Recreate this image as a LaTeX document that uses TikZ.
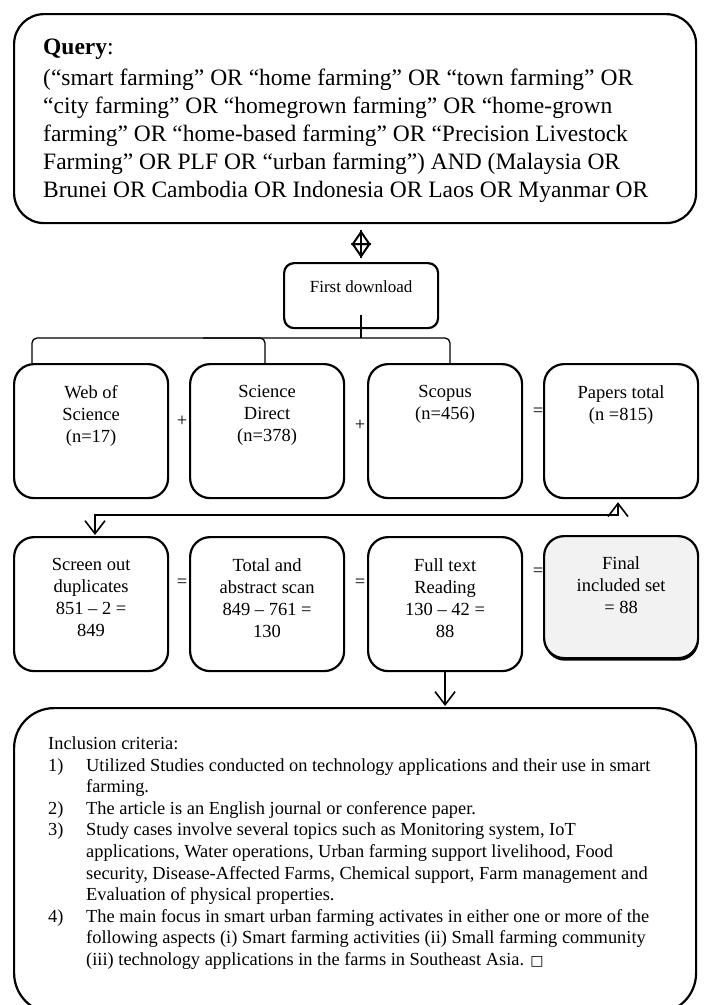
\documentclass[tikz,border=0pt]{standalone}
\usepackage{fontspec}
\setmainfont{Liberation Serif}
\newfontfamily\symfont{DejaVu Sans}
\usetikzlibrary{arrows.meta,shadows}
\definecolor{finalgray}{RGB}{242,242,242}
\begin{document}
\begin{tikzpicture}[x=1pt,y=-1pt,
  bigbox/.style={draw,line width=2.2pt,anchor=north west,inner sep=0pt},
  stepbox/.style={draw,line width=2.2pt,rounded corners=20pt,minimum width=154pt,minimum height=134pt,anchor=north west,inner sep=0pt},
  boxtext/.style={anchor=north,inner sep=0pt,align=center,font=\fontsize{18.5}{22}\selectfont},
  optext/.style={inner sep=0pt,font=\fontsize{18.5}{22}\selectfont},
  conn/.style={line width=1.3pt},
  vtip/.style={line width=1.6pt,arrows={-Straight Barb[length=13pt,width=20pt]}},
  bothtip/.style={line width=1.6pt,arrows={Straight Barb[length=13pt,width=20pt]-Straight Barb[length=13pt,width=20pt]}},
]
\path[use as bounding box] (0,0) rectangle (706,1005);
\clip (0,0) rectangle (706,1005);
\fill[white] (0,0) rectangle (706,1005);

% Query box
\node[bigbox,rounded corners=30pt,minimum width=682pt,minimum height=209pt] (q) at (13,13) {};
\node[anchor=north west,inner sep=0pt,align=left,font=\fontsize{23.5}{28}\selectfont] (qt) at (43,39)
{\textbf{Query}:\\[3pt]
(“smart farming” OR “home farming” OR “town farming” OR\\
“city farming” OR “homegrown farming” OR “home-grown\\
farming” OR “home-based farming” OR “Precision Livestock\\
Farming” OR PLF OR “urban farming”) AND (Malaysia OR\\
Brunei OR Cambodia OR Indonesia OR Laos OR Myanmar OR};

% First download
\node[draw,line width=2.2pt,rounded corners=10pt,minimum width=154pt,minimum height=65pt,anchor=north west,inner sep=0pt] (fd) at (283,262) {};
\node[anchor=north,inner sep=0pt,font=\fontsize{17}{20}\selectfont] (fdt) at ([yshift=-18pt]fd.north) {First download};

% double arrow
\coordinate (da1) at ([yshift=-6pt]fd.north |- q.south);
\coordinate (da2) at ([yshift=4pt]fd.north);
\draw[line width=2pt] (da1) -- (da2);
\draw[line width=2pt,{Triangle[open,length=15pt,width=20pt]}-{Triangle[open,length=15pt,width=20pt]}] (da1) -- (da2);

% Row 1
\node[stepbox] (wos) at (13,363) {};
\node[stepbox] (sd) at (189,363) {};
\node[stepbox] (sc) at (367,363) {};
\node[stepbox] (pt) at (543,363) {};
\node[boxtext] (wost) at ([yshift=-22pt]wos.north) {Web of\\Science\\(n=17)};
\node[boxtext] (sdt) at ([yshift=-22pt]sd.north) {Science\\Direct\\(n=378)};
\node[boxtext] (sct) at ([yshift=-22pt]sc.north) {Scopus\\(n=456)};
\node[boxtext] (ptt) at ([yshift=-22pt]pt.north) {Papers total\\(n =815)};
\node[optext] (p1) at (182,421) {+};
\node[optext] (p2) at (360,425) {+};
\node[optext] (e1) at (538,412) {=};

% bracket from first download
\coordinate (bj) at (fd.south |- 0,338);
\draw[conn] ([yshift=14pt]fd.south) -- (bj);
\draw[conn,rounded corners=5pt] ([xshift=19pt]wos.north west) |- (bj) -| ([xshift=83pt]sc.north west);
\draw[conn,rounded corners=5pt] ([xshift=76pt]sd.north west) |- ([xshift=14pt]sd.north west |- bj);

% Row 2
\node[stepbox] (scr) at (13,536) {};
\node[stepbox] (tas) at (189,536) {};
\node[stepbox] (ftr) at (367,536) {};
\node[stepbox,fill=finalgray,minimum height=122pt,drop shadow={shadow xshift=0.6pt,shadow yshift=-2.6pt,opacity=1,fill=black}] (fin) at (543,535) {};
\node[boxtext] (scrt) at ([yshift=-22pt]scr.north) {Screen out\\duplicates\\851 – 2 =\\849};
\node[boxtext] (tast) at ([yshift=-22pt]tas.north) {Total and\\abstract scan\\849 – 761 =\\130};
\node[boxtext] (ftrt) at ([yshift=-22pt]ftr.north) {Full text\\Reading\\130 – 42 =\\88};
\node[boxtext] (fint) at ([yshift=-21pt]fin.north) {Final\\included set\\= 88};
\node[optext] (e2) at (182,583) {=};
\node[optext] (e3) at (360,583) {=};
\node[optext] (e4) at (538,572) {=};

% loop connector between rows
\draw[bothtip] ([xshift=75pt,yshift=-3pt]pt.south west) |- ([xshift=82pt,yshift=-16pt]wos.south west) -- ([xshift=82pt,yshift=1pt]scr.north west);

% Inclusion box
\node[bigbox,rounded corners=40pt,minimum width=682pt,minimum height=305pt] (inc) at (13,707) {};
\draw[vtip] (ftr.south) -- ([yshift=1pt]inc.north -| ftr.south);
\node[anchor=north west,inner sep=0pt,align=left,font=\fontsize{18.4}{21.6}\selectfont] (inct) at (48,736.5)
{Inclusion criteria:\\
\makebox[38pt][l]{1)}Utilized Studies conducted on technology applications and their use in smart\\
\hspace*{38pt}farming.\\
\makebox[38pt][l]{2)}The article is an English journal or conference paper.\\
\makebox[38pt][l]{3)}Study cases involve several topics such as Monitoring system, IoT\\
\hspace*{38pt}applications, Water operations, Urban farming support livelihood, Food\\
\hspace*{38pt}security, Disease-Affected Farms, Chemical support, Farm management and\\
\hspace*{38pt}Evaluation of physical properties.\\
\makebox[38pt][l]{4)}The main focus in smart urban farming activates in either one or more of the\\
\hspace*{38pt}following aspects (i) Smart farming activities (ii) Small farming community\\
\hspace*{38pt}(iii) technology applications in the farms in Southeast Asia. {\symfont\fontsize{14}{16}\selectfont □}};
\end{tikzpicture}
\end{document}
